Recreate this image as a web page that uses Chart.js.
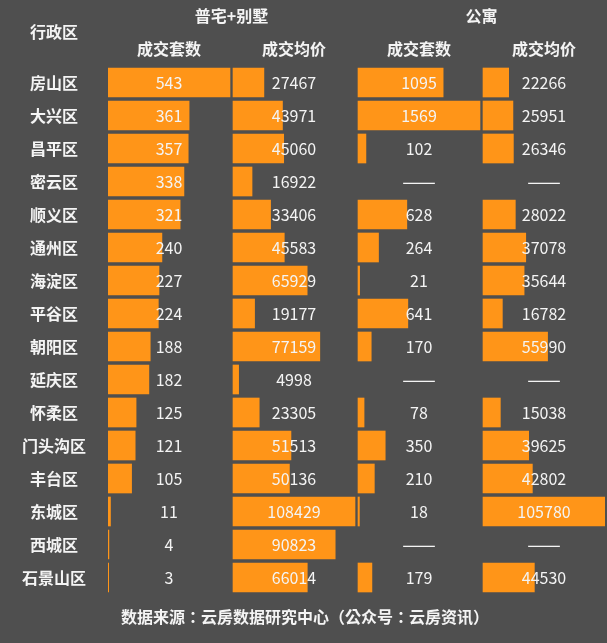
<!DOCTYPE html>
<html>
<head>
<meta charset="utf-8">
<script src="https://cdn.jsdelivr.net/npm/chart.js@4"></script>
<style>
  html, body { margin: 0; padding: 0; background: #4f4f4f; }
  canvas { display: block; }
</style>
</head>
<body>
<canvas id="myChart" width="607" height="643"></canvas>
<script>
const districts = ['房山区', '大兴区', '昌平区', '密云区', '顺义区', '通州区', '海淀区', '平谷区', '朝阳区', '延庆区', '怀柔区', '门头沟区', '丰台区', '东城区', '西城区', '石景山区'];
const houseCount = [543, 361, 357, 338, 321, 240, 227, 224, 188, 182, 125, 121, 105, 11, 4, 3];
const housePrice = [27467, 43971, 45060, 16922, 33406, 45583, 65929, 19177, 77159, 4998, 23305, 51513, 50136, 108429, 90823, 66014];
const flatCount = [1095, 1569, 102, null, 628, 264, 21, 641, 170, null, 78, 350, 210, 18, null, 179];
const flatPrice = [22266, 25951, 26346, null, 28022, 37078, 35644, 16782, 55990, null, 15038, 39625, 42802, 105780, null, 44530];
const columnTitles = ['成交套数', '成交均价', '成交套数', '成交均价'];

const series = [houseCount, housePrice, flatCount, flatPrice];
const barColor = '#ff9518';
const textColor = '#f4f4f4';
const cjkFont = '"Noto Sans CJK SC", sans-serif';

// every column is its own x scale on the same chart area
const plotWidth = 497;
const columnStart = [0, 125, 250, 375];
const columnWidth = 122;

function columnScale(values, start) {
    const unit = Math.max(...values.filter(v => v !== null)) / columnWidth;
    return {
        display: false,
        min: -start * unit,
        max: (plotWidth - start) * unit
    };
}

const xScales = {};
series.forEach((values, i) => {
    xScales['x' + i] = columnScale(values, columnStart[i]);
});

// headers, footer and the value in the middle of each column
const tableText = {
    id: 'tableText',
    afterDatasetsDraw(chart) {
        const ctx = chart.ctx;
        const y = chart.scales.y;
        ctx.save();
        ctx.textAlign = 'center';
        ctx.textBaseline = 'middle';
        ctx.fillStyle = textColor;

        const centers = series.map((values, i) => chart.scales['x' + i].getPixelForValue(0) + columnWidth / 2);

        series.forEach((values, i) => {
            values.forEach((v, row) => {
                if (v === null) {
                    ctx.font = '20px ' + cjkFont;
                    ctx.fillText('——', centers[i], y.getPixelForValue(row));
                } else {
                    ctx.font = '16px ' + cjkFont;
                    ctx.fillText(String(v), centers[i], y.getPixelForValue(row));
                }
            });
            ctx.font = 'bold 16px ' + cjkFont;
            ctx.fillText(columnTitles[i], centers[i], 49);
        });

        ctx.font = 'bold 16px ' + cjkFont;
        ctx.fillText('普宅+别墅', (centers[0] + centers[1]) / 2, 16);
        ctx.fillText('公寓', (centers[2] + centers[3]) / 2, 16);
        ctx.fillText('行政区', 54, 32);
        ctx.font = 'bold 16px "Noto Sans CJK TC", sans-serif';
        ctx.fillText('数据来源：云房数据研究中心（公众号：云房资讯）', 305, 617);
        ctx.restore();
    }
};

new Chart(document.getElementById('myChart'), {
    type: 'bar',
    data: {
        labels: districts,
        datasets: series.map((values, i) => ({
            data: values,
            xAxisID: 'x' + i,
            backgroundColor: barColor,
            borderWidth: 0,
            barThickness: 29,
            grouped: false
        }))
    },
    options: {
        indexAxis: 'y',
        responsive: false,
        animation: false,
        layout: { padding: { top: 66, bottom: 49, right: 2 } },
        plugins: {
            legend: { display: false },
            tooltip: { enabled: false }
        },
        scales: {
            ...xScales,
            y: {
                afterFit: scale => { scale.width = 108; },
                grid: { display: false, drawTicks: false },
                border: { display: false },
                ticks: {
                    color: textColor,
                    padding: 22,
                    crossAlign: 'center',
                    autoSkip: false,
                    font: { family: cjkFont, size: 16, weight: 'bold' }
                }
            }
        }
    },
    plugins: [tableText]
});
</script>
</body>
</html>
